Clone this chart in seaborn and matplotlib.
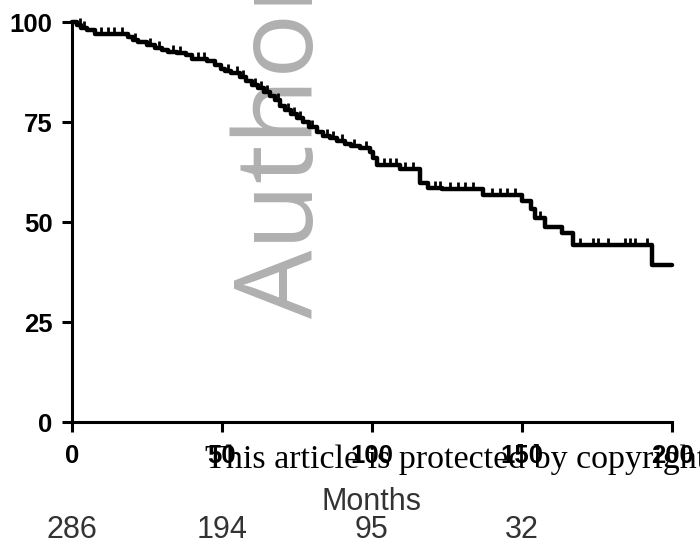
import matplotlib
matplotlib.use("Agg")
import matplotlib.pyplot as plt
import matplotlib.transforms as mtransforms
import seaborn as sns
import pandas as pd

# Kaplan-Meier step curve (months, survival %)
months = [0, 1.5, 3, 5, 7.5, 18.7, 20.3, 22, 25, 27.5, 30, 32, 35, 38, 40,
          45, 47.7, 49.5, 51, 53, 56, 58, 60, 62, 64, 66, 67.5, 69.3, 71, 73,
          75, 77, 79, 81.7, 83.5, 86, 88.3, 91, 93, 96, 99.3, 100.3, 101.5,
          109.3, 116, 118.7, 123.3, 137, 150, 153, 154.3, 157.7, 163.3, 167,
          193.3, 200]
survival = [100, 99.3, 98.6, 98.0, 97.0, 96.2, 95.5, 95.0, 94.2, 93.6, 93.0,
            92.5, 92.2, 91.7, 90.8, 90.3, 89.3, 88.3, 87.7, 87.2, 86.2, 85.2,
            84.3, 83.4, 82.6, 81.6, 80.5, 79.0, 78.0, 77.0, 76.0, 75.0, 73.8,
            72.5, 71.6, 71.0, 70.2, 69.6, 69.0, 68.5, 67.5, 66.0, 64.2, 63.2,
            59.7, 58.6, 58.2, 56.7, 55.2, 53.3, 51.0, 48.8, 47.2, 44.2, 39.2,
            39.2]

# Censored observations
censor_months = [2.5, 4, 9.5, 12, 14, 16.5, 21, 26, 29, 33.5, 36, 42, 44, 52,
                 55, 57, 61, 63, 65, 68.5, 72, 74, 76, 80, 85, 87, 90, 94, 98,
                 104, 106, 108, 111, 113.5, 121, 122.5, 126, 128.5, 131, 133.7,
                 140, 142.5, 145, 147.7, 156, 169.3, 173.7, 175.3, 178.7,
                 184.3, 186, 187.7, 191.7]
censor_survival = [99.3, 98.6, 97.0, 97.0, 97.0, 97.0, 95.5, 94.2, 93.6, 92.5,
                   92.2, 90.8, 90.8, 87.7, 87.2, 86.2, 84.3, 83.4, 82.6, 80.5,
                   78.0, 77.0, 76.0, 73.8, 71.6, 71.0, 70.2, 69.0, 68.5, 64.2,
                   64.2, 64.2, 63.2, 63.2, 58.6, 58.6, 58.2, 58.2, 58.2, 58.2,
                   56.7, 56.7, 56.7, 56.7, 51.0, 44.2, 44.2, 44.2, 44.2, 44.2,
                   44.2, 44.2, 44.2]

# Number at risk
risk_months = [0, 50, 100, 150]
risk_counts = [286, 194, 95, 32]

x_ticks = [0, 50, 100, 150, 200]
y_ticks = [0, 25, 50, 75, 100]

sns.set_theme(style="ticks")
plt.rcParams["font.family"] = ["Liberation Sans", "DejaVu Sans"]

fig = plt.figure(figsize=(7, 5.48), dpi=100)
ax = fig.add_axes([72 / 700, 126 / 548, 600 / 700, 400 / 548])
ax.patch.set_alpha(0)

curve = pd.DataFrame({"Months": months, "Survival": survival})
sns.lineplot(data=curve, x="Months", y="Survival", drawstyle="steps-post",
             color="black", linewidth=3.2, ax=ax, clip_on=False, zorder=3)
cens = pd.DataFrame({"Months": censor_months, "Survival": censor_survival})
sns.scatterplot(data=cens, x="Months", y="Survival", marker=2, s=28,
                color="black", linewidth=2.0, ax=ax, zorder=4, clip_on=False)

ax.set_xlim(0, 200)
ax.set_ylim(0, 100)
ax.set_xticks(x_ticks)
ax.set_yticks(y_ticks)
sns.despine(ax=ax)
for side in ("left", "bottom"):
    ax.spines[side].set_color("black")
    ax.spines[side].set_linewidth(2.2)
ax.tick_params(axis="both", length=7, width=2.2, color="black",
               labelsize=18.5, labelcolor="black")
ax.tick_params(axis="x", pad=9)
ax.tick_params(axis="y", pad=7)
for lab in ax.get_xticklabels() + ax.get_yticklabels():
    lab.set_fontweight("bold")

ax.set_ylabel("")
ax.set_xlabel("Months", fontsize=22, color="#333333")
ax.xaxis.set_label_coords(0.5, -0.1625)

trans = mtransforms.blended_transform_factory(ax.transData, ax.transAxes)
for m, n in zip(risk_months, risk_counts):
    ax.text(m, -0.27, str(n), transform=trans, ha="center", va="center",
            fontsize=22, color="#333333")

# Watermarks
fig.text(313 / 700, (548 - 318) / 548, "Author Manuscript", rotation=90,
         rotation_mode="anchor", ha="left", va="baseline", fontsize=78,
         color="#b0b0b0", family="Open Sans", zorder=-1)
fig.text(205 / 700, 80 / 548,
         "This article is protected by copyright. All rights reserved.",
         fontsize=24.5, family="Liberation Serif", color="black",
         va="baseline", zorder=10)

fig.savefig("out.png", dpi=100)
